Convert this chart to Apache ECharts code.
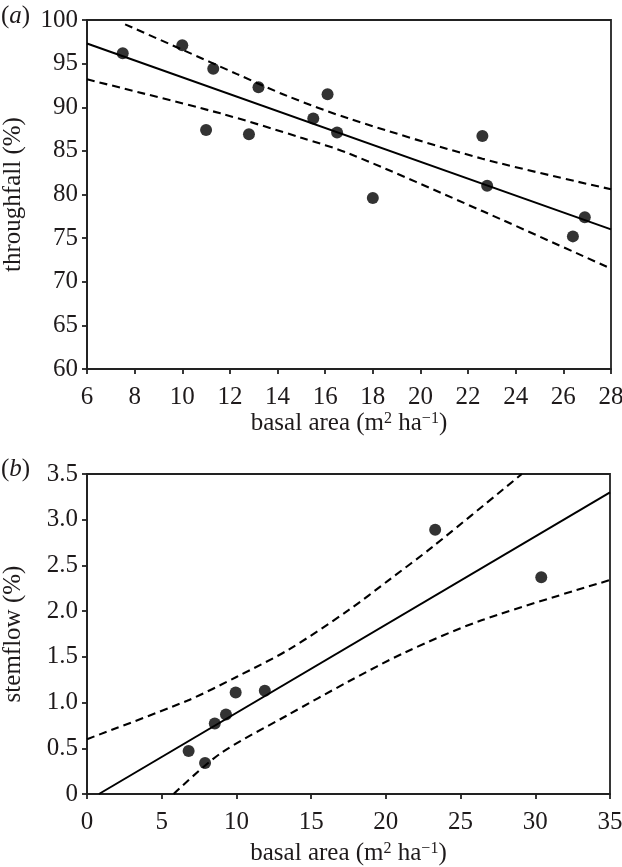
<!DOCTYPE html>
<html>
<head>
<meta charset="utf-8">
<script src="https://cdn.jsdelivr.net/npm/echarts@6/dist/echarts.min.js"></script>
<style>html,body{margin:0;padding:0;background:#fff}#c{width:622px;height:867px}</style>
</head>
<body>
<div id="c"></div>
<script>
// ---------- Panel (a): throughfall vs basal area ----------
const aBasal   = [7.5, 10.0, 11.3, 11.0, 13.2, 12.8, 15.5, 16.1, 16.5, 18.0, 22.6, 22.8, 26.9, 26.4];
const aThrough = [96.2, 97.1, 94.4, 87.4, 92.3, 86.9, 88.7, 91.5, 87.1, 79.6, 86.7, 81.0, 77.4, 75.2];
const aFitX    = [6, 28];
const aFitY    = [97.3, 76.0];
const aUpperX  = [7.6, 10.0, 12.3, 14.4, 17.0, 22.6, 28.0];
const aUpperY  = [99.5, 96.6, 93.8, 91.3, 88.7, 84.1, 80.6];
const aLowerX  = [6.0, 11.6, 15.0, 17.0, 22.6, 28.0];
const aLowerY  = [93.2, 89.3, 86.5, 84.7, 78.1, 71.5];
const aXTicks  = {min: 6, max: 28, interval: 2};
const aYTicks  = {min: 60, max: 100, interval: 5};

// ---------- Panel (b): stemflow vs basal area ----------
const bBasal   = [6.8, 7.9, 8.55, 9.3, 9.95, 11.9, 23.3, 30.4];
const bStem    = [0.47, 0.34, 0.77, 0.87, 1.11, 1.13, 2.89, 2.37];
const bFitX    = [0.8, 35];
const bFitY    = [0, 3.30];
const bUpperX  = [0, 6.7, 10.0, 13.5, 17.5, 20.2, 23.1, 29.1];
const bUpperY  = [0.60, 1.02, 1.28, 1.58, 2.01, 2.34, 2.70, 3.50];
const bLowerX  = [5.8, 8.9, 13.4, 17.5, 21.3, 26.4, 35];
const bLowerY  = [0, 0.44, 0.86, 1.23, 1.55, 1.90, 2.34];
const bXTicks  = {min: 0, max: 35, interval: 5};
const bYTicks  = {min: 0, max: 3.5, interval: 0.5};

const xName = 'basal area (m{sup|2} ha{sup|\u22121})';
const aYName = 'throughfall (%)';
const bYName = 'stemflow (%)';

const zip = (xs, ys) => xs.map((x, i) => [x, ys[i]]);

const FONT = 'Liberation Serif';
const TXT = '#1e1a1b';
const AX = '#222';
const FS = 25;

function xAxis(idx, ticks, gap) {
  return {
    type: 'value', gridIndex: idx, min: ticks.min, max: ticks.max, interval: ticks.interval,
    name: xName, nameLocation: 'middle', nameGap: gap,
    nameTextStyle: {fontFamily: FONT, fontSize: FS, color: TXT,
      rich: {sup: {fontFamily: FONT, fontSize: 16, color: TXT, verticalAlign: 'top', lineHeight: 16}}},
    axisLine: {show: true, onZero: false, lineStyle: {color: AX, width: 1.8}},
    axisTick: {show: true, inside: false, length: 5, lineStyle: {color: AX, width: 1.8}},
    axisLabel: {fontFamily: FONT, fontSize: FS, color: TXT, margin: 16},
    splitLine: {show: false}
  };
}
function yAxis(idx, ticks, name, gap, fmt) {
  return {
    type: 'value', gridIndex: idx, min: ticks.min, max: ticks.max, interval: ticks.interval,
    name: name, nameLocation: 'middle', nameGap: gap, nameRotate: 90,
    nameTextStyle: {fontFamily: FONT, fontSize: FS, color: TXT},
    axisLine: {show: true, onZero: false, lineStyle: {color: AX, width: 1.8}},
    axisTick: {show: true, inside: false, length: 5, lineStyle: {color: AX, width: 1.8}},
    axisLabel: {fontFamily: FONT, fontSize: FS, color: TXT, margin: 9, formatter: fmt},
    splitLine: {show: false}
  };
}

const dotStyle = {type: 'scatter', symbol: 'circle', symbolSize: 12, itemStyle: {color: '#000'}, z: 5};
const solid = {type: 'line', showSymbol: false, symbol: 'none', lineStyle: {color: '#000', width: 2}, z: 3};
const dashed = {type: 'line', showSymbol: false, symbol: 'none', smooth: 0.3,
  lineStyle: {color: '#000', width: 2.1, type: [8, 5]}, z: 3};

const option = {
  backgroundColor: '#fff',
  animation: false,
  grid: [
    {left: 87, top: 20, width: 524, height: 349, containLabel: false, outerBoundsMode: 'none',
      show: true, borderColor: AX, borderWidth: 1.8, backgroundColor: 'transparent'},
    {left: 87, top: 474, width: 523, height: 320, containLabel: false, outerBoundsMode: 'none',
      show: true, borderColor: AX, borderWidth: 1.8, backgroundColor: 'transparent'}
  ],
  xAxis: [xAxis(0, aXTicks, 39), xAxis(1, bXTicks, 47)],
  yAxis: [
    yAxis(0, aYTicks, aYName, 61, v => String(v)),
    yAxis(1, bYTicks, bYName, 61, v => v === 0 ? '0' : v.toFixed(1))
  ],
  graphic: [
    {type: 'text', left: 1, top: 4, style: {text: '({i|a})', fontFamily: FONT, fontSize: FS, fill: TXT,
      rich: {i: {fontFamily: FONT, fontSize: FS, fontStyle: 'italic', color: TXT}}}},
    {type: 'text', left: 1, top: 457, style: {text: '({i|b})', fontFamily: FONT, fontSize: FS, fill: TXT,
      rich: {i: {fontFamily: FONT, fontSize: FS, fontStyle: 'italic', color: TXT}}}}
  ],
  series: [
    Object.assign({}, dotStyle, {xAxisIndex: 0, yAxisIndex: 0, data: zip(aBasal, aThrough)}),
    Object.assign({}, solid, {xAxisIndex: 0, yAxisIndex: 0, data: zip(aFitX, aFitY)}),
    Object.assign({}, dashed, {xAxisIndex: 0, yAxisIndex: 0, data: zip(aUpperX, aUpperY)}),
    Object.assign({}, dashed, {xAxisIndex: 0, yAxisIndex: 0, data: zip(aLowerX, aLowerY)}),
    Object.assign({}, dotStyle, {xAxisIndex: 1, yAxisIndex: 1, data: zip(bBasal, bStem)}),
    Object.assign({}, solid, {xAxisIndex: 1, yAxisIndex: 1, data: zip(bFitX, bFitY)}),
    Object.assign({}, dashed, {xAxisIndex: 1, yAxisIndex: 1, data: zip(bUpperX, bUpperY)}),
    Object.assign({}, dashed, {xAxisIndex: 1, yAxisIndex: 1, data: zip(bLowerX, bLowerY)})
  ]
};

const chart = echarts.init(document.getElementById('c'), null, {renderer: 'canvas'});
chart.setOption(option);
</script>
</body>
</html>
